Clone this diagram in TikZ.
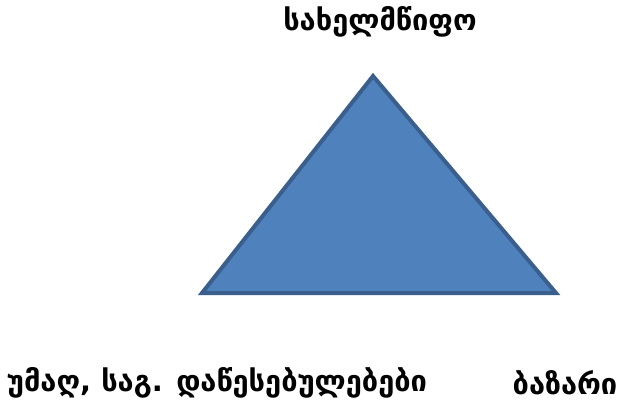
\documentclass[tikz,border=0pt]{standalone}
\usepackage{fontspec}
\newfontfamily\geofont{DejaVu Sans}
\usepackage{xcolor}
\usetikzlibrary{positioning}

\definecolor{triFill}{HTML}{4F81BD}
\definecolor{triLine}{HTML}{3A5F8C}

\tikzset{
    label/.style={font=\geofont\bfseries\fontsize{29}{32}\selectfont, inner sep=0pt}
}

\begin{document}
\begin{tikzpicture}[x=1pt, y=-1pt]
        \useasboundingbox (0,0) rectangle (619,402);
        \coordinate (apex) at (373,76);
        \coordinate (bl)   at (202,293);
        \coordinate (br)   at (556,293);
        \filldraw[fill=triFill, draw=triLine, line width=4pt, line join=miter] (apex) -- (br) -- (bl) -- cycle;

        \node[label] (state)  at (380,22)  {სახელმწიფო};
        \node[label] (univ)   at (217,383) {უმაღ, საგ. დაწესებულებები};
        \node[label] (market) at (565,383) {ბაზარი};
\end{tikzpicture}
\end{document}
